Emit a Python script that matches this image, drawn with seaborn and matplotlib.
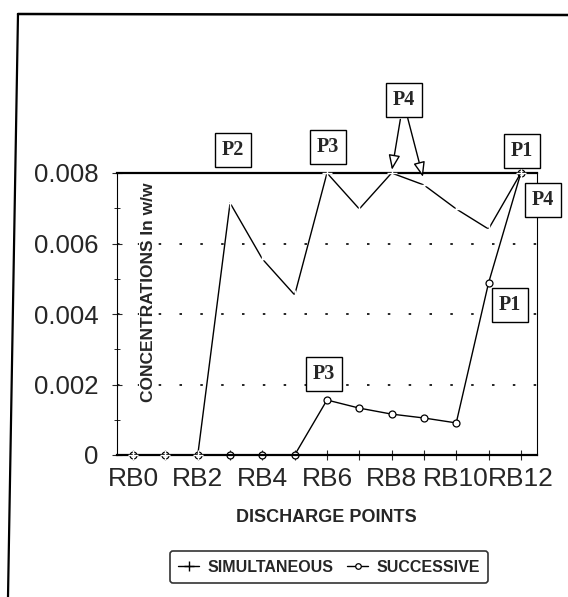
import matplotlib
matplotlib.use("Agg")
import matplotlib.pyplot as plt
from matplotlib.lines import Line2D
from matplotlib.ticker import MultipleLocator
import seaborn as sns
import pandas as pd

# === Data ===
points = ["RB0", "RB1", "RB2", "RB3", "RB4", "RB5", "RB6",
          "RB7", "RB8", "RB9", "RB10", "RB11", "RB12"]
tick_labels = ["RB0", "", "RB2", "", "RB4", "", "RB6",
               "", "RB8", "", "RB10", "", "RB12"]
simultaneous = [0, 0, 0, 0.00715, 0.00556, 0.00454, 0.008,
                0.00698, 0.008, 0.00766, 0.00698, 0.00641, 0.008]
successive = [0, 0, 0, 0, 0, 0, 0.00156,
              0.00133, 0.00116, 0.00105, 0.00091, 0.00488, 0.008]
y_ticks = [0, 0.002, 0.004, 0.006, 0.008]
y_tick_labels = ["0", "0.002", "0.004", "0.006", "0.008"]

# boxed pump labels: text, x (category units), y (concentration)
p_labels = ["P2", "P3", "P4", "P1", "P4", "P1", "P3"]
p_x = [3.09, 6.03, 8.39, 12.04, 12.69, 11.67, 5.91]
p_y = [0.00865, 0.00874, 0.01007, 0.00862, 0.00723, 0.00426, 0.0023]

df = pd.DataFrame({"point": points, "sim": simultaneous, "suc": successive})

# === Style ===
sns.set_style("white")
plt.rcParams["font.family"] = ["Liberation Sans", "DejaVu Sans"]

fig = plt.figure(figsize=(5.68, 5.97), dpi=100)
ax = fig.add_axes([117 / 568, 1 - 455 / 597, 420 / 568, 282 / 597])

sns.lineplot(data=df, x="point", y="suc", ax=ax, color="black", lw=1.0,
             marker="o", markersize=5, markerfacecolor="white",
             markeredgecolor="black", markeredgewidth=0.9,
             label="SUCCESSIVE", clip_on=False, zorder=2)
sns.lineplot(data=df, x="point", y="sim", ax=ax, color="black", lw=1.0,
             marker="+", markersize=7, markeredgewidth=1.0,
             label="SIMULTANEOUS", clip_on=False, zorder=3)

ax.set_xlim(-0.5, len(points) - 0.5)
ax.set_ylim(0, 0.008)
ax.set_xticks(range(len(points)))
ax.set_xticklabels(tick_labels, fontsize=19)
ax.set_yticks(y_ticks)
ax.set_yticklabels(y_tick_labels, fontsize=18.5)
ax.yaxis.set_minor_locator(MultipleLocator(0.001))
ax.tick_params(axis="x", direction="inout", length=7, width=0.8, pad=5,
               bottom=True)
ax.tick_params(axis="y", which="major", direction="inout", length=7,
               width=0.8, pad=10, left=True)
ax.tick_params(axis="y", which="minor", direction="inout", length=4,
               width=0.7, left=True)

for s in ["left", "right"]:
    ax.spines[s].set_linewidth(0.8)
ax.spines["top"].set_linewidth(1.6)
ax.spines["bottom"].set_linewidth(1.6)
for s in ax.spines.values():
    s.set_color("black")

ax.yaxis.grid(True, color="black", linestyle=(0, (1.5, 11)), lw=1.2)
ax.xaxis.grid(False)

ax.set_xlabel("DISCHARGE POINTS", fontsize=13, fontweight="bold")
ax.xaxis.set_label_coords(0.4976, -0.19)
ax.set_ylabel("")
ax.text(0.074, 0.578, "CONCENTRATIONS In w/w", transform=ax.transAxes,
        rotation=90, ha="center", va="center", fontsize=12.5,
        fontweight="bold",
        bbox=dict(facecolor="white", edgecolor="none", pad=1), zorder=3)

# === Boxed P labels ===
for txt, px, py in zip(p_labels, p_x, p_y):
    ax.text(px, py, txt, ha="center", va="center", fontsize=14.5,
            fontweight="bold", family=["Liberation Serif", "DejaVu Serif"],
            clip_on=False, zorder=5,
            bbox=dict(boxstyle="square,pad=0.35", facecolor="white",
                      edgecolor="black", lw=1.0))

# arrows from the top P4 box onto RB8 / RB9
arrow = dict(arrowstyle="-|>,head_length=0.9,head_width=0.35",
             facecolor="white", edgecolor="black", lw=1.0, shrinkA=0,
             shrinkB=0)
ax.annotate("", xy=(8.01, 0.00809), xytext=(8.27, 0.00952),
            arrowprops=arrow, annotation_clip=False)
ax.annotate("", xy=(8.97, 0.00789), xytext=(8.5, 0.00955),
            arrowprops=arrow, annotation_clip=False)

# === Legend ===
ax.get_legend().remove()
handles = [Line2D([], [], color="black", lw=1.0, marker="+", markersize=7,
                  markeredgewidth=1.0),
           Line2D([], [], color="black", lw=1.0, marker="o", markersize=4,
                  markerfacecolor="white", markeredgewidth=0.9)]
leg = fig.legend(handles, ["SIMULTANEOUS", "SUCCESSIVE"], ncol=2,
                 loc="center", bbox_to_anchor=(329 / 568, 1 - 567 / 597),
                 prop=dict(weight="bold", size=11.5), handlelength=1.3,
                 handletextpad=0.5, columnspacing=0.9, fancybox=True,
                 frameon=True, borderpad=0.55, borderaxespad=0)
leg.get_frame().set_edgecolor("black")
leg.get_frame().set_linewidth(1.2)

# outer page frame of the scan
fig.add_artist(Line2D([18 / 568, 1.0], [1 - 14 / 597, 1 - 15 / 597],
                      color="black", lw=1.8))
fig.add_artist(Line2D([18 / 568, 8 / 568], [1 - 14 / 597, 0.0],
                      color="black", lw=1.6))

fig.savefig("out.png", dpi=100, facecolor="white")
